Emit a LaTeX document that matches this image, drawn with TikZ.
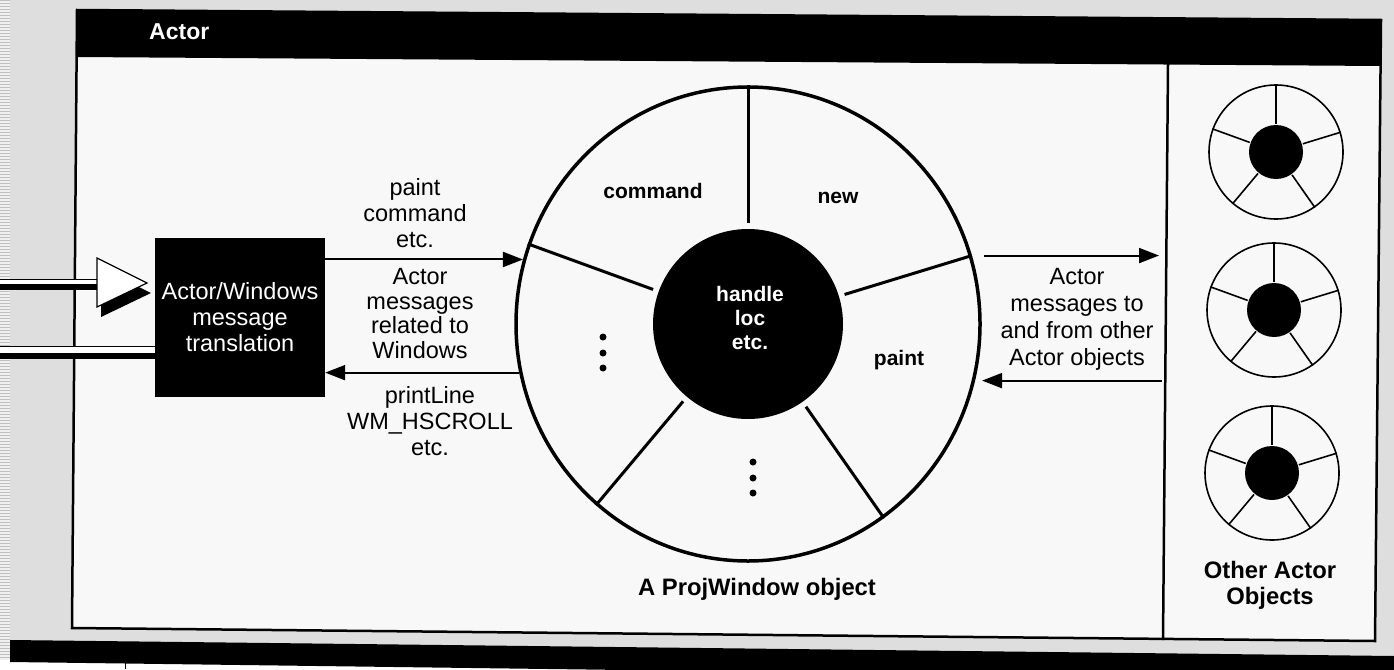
\documentclass[tikz,border=0pt]{standalone}
\usepackage{fontspec}
\setmainfont{Liberation Sans}
\usetikzlibrary{shapes.geometric,arrows.meta,calc}
\definecolor{bg}{HTML}{DEDEDE}
\definecolor{paper}{HTML}{F8F8F8}
\begin{document}
\begin{tikzpicture}[x=1pt,y=1pt,
  reg/.style={font=\fontsize{23.5}{26}\selectfont, align=center, inner sep=0},
  bld/.style={font=\bfseries\fontsize{21}{24}\selectfont, inner sep=0},
  conn/.style={line width=2, -{Triangle[length=20pt,width=15pt]}},
  spoke/.style={line width=3},
  smallspoke/.style={line width=1.6}
]
\useasboundingbox (0,0) rectangle (1394,-669);
\clip (0,0) rectangle (1394,-669);
\fill[bg] (0,0) rectangle (1394,-669);
% left striped margin
\fill[gray!12] (0,0) rectangle (10,-669);
\foreach \k in {0,...,222} \fill[gray!50] (0,-3*\k) rectangle (10,-3*\k-1.2);
% frame
\filldraw[fill=paper, line width=2.5] (77,-10) -- (1381,-20) -- (1375,-641) -- (72,-628) -- cycle;
\fill (77,-10) -- (1381,-20) -- (1381,-66) -- (76.6,-57) -- cycle;
\node[anchor=base west, font=\bfseries\fontsize{23}{26}\selectfont, text=white, inner sep=0] (title) at (149,-40) {Actor};
\draw[line width=2.5] (1168,-64) -- (1163,-640);
% bottom bar
\fill[white] (0,-660) rectangle (1394,-669);
\fill (10,-640) -- (1394,-656) -- (1394,-680) -- (10,-662) -- cycle;
\draw[line width=1] (125,-662) -- (125,-669);
% translation box
\node[fill=black, minimum width=170, minimum height=159, inner sep=0, text=white, reg] (box) at (240,-317.5) {Actor/Windows\\message\\translation};
% incoming pipes
\fill[white] (0,-279) rectangle (98,-285);
\draw[line width=1.2] (0,-279.3) -- (98,-279.3);
\fill (0,-284) rectangle (98,-289.5);
\fill[white] (0,-347) rectangle (155,-353);
\draw[line width=1.2] (0,-346.7) -- (155,-346.7);
\fill (0,-353) rectangle (155,-359);
\fill (101,-268) -- (151,-293) -- (101,-317) -- cycle;
\filldraw[fill=white, line width=1.2] (97,-258) -- (147,-283) -- (97,-307) -- cycle;
% ProjWindow object
\node[ellipse, draw, line width=3.5, minimum width=464, minimum height=474, inner sep=0] (pw) at (748,-324) {};
\node[circle, fill=black, minimum size=190, inner sep=0] (core) at (748,-324) {};
\node[bld, align=center, text=white, anchor=base] (corelbl) at (750,-349) {handle\\loc\\etc.};
\foreach \a in {90,17,305,230,160} \draw[spoke] ($(pw.center)+(\a:101)$) -- (pw.\a);
\node[bld, anchor=base] (cmd) at (653,-198) {command};
\node[bld, anchor=base] (new) at (838,-203) {new};
\node[bld, anchor=base] (paint) at (899,-365) {paint};
\foreach \y in {337,353,368} \fill (603,-\y) circle (3.5);
\foreach \y in {462,478,493} \fill (753,-\y) circle (3.5);
\node[anchor=base, font=\bfseries\fontsize{23.8}{26}\selectfont, inner sep=0] (pwlbl) at (757,-595) {A ProjWindow object};
% connectors
\draw[conn] (box.east |- pw.164) -- (pw.164);
\draw[conn] (pw.192) -- (box.east |- pw.192);
\coordinate (rt1) at (1159,-254);
\coordinate (rt2) at (1162,-383);
\draw[conn] ([xshift=12]pw.17) -- (rt1 |- pw.17);
\draw[conn] (rt2 |- pw.346) -- ([xshift=7]pw.346);
% connector labels
\node[reg, anchor=base] (l1) at (415,-247) {paint\\command\\etc.};
\node[reg, anchor=base, font=\fontsize{23.5}{24.5}\selectfont] (l2) at (420,-358) {Actor\\messages\\related to\\Windows};
\node[reg, anchor=base] (l3) at (430,-455) {printLine\\WM\_HSCROLL\\etc.};
\node[reg, anchor=base, font=\fontsize{23.5}{26.7}\selectfont] (l4) at (1077,-365) {Actor\\messages to\\and from other\\Actor objects};
% other actor objects
\foreach \n/\cx/\cy in {1/1276/152, 2/1274/310, 3/1272/473} {
  \node[circle, draw, line width=1.6, minimum size=134, inner sep=0] (o\n) at (\cx,-\cy) {};
  \node[circle, fill=black, minimum size=54, inner sep=0] (k\n) at (\cx,-\cy) {};
  \foreach \a in {90,17,305,230,160} \draw[smallspoke] ($(o\n.center)+(\a:28)$) -- (o\n.\a);
}
\node[anchor=base, align=center, font=\bfseries\fontsize{23.8}{26}\selectfont, inner sep=0] (olbl) at (1270,-604) {Other Actor\\Objects};
\end{tikzpicture}
\end{document}
